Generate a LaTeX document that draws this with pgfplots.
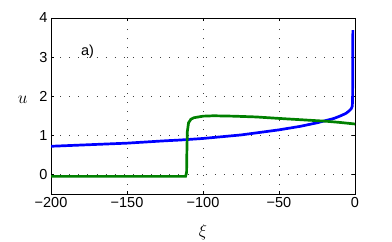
\documentclass[border=0pt]{standalone}
\usepackage{pgfplots}
\pgfplotsset{compat=1.18}
\usepackage{fontspec}
\setmainfont{Liberation Sans}
\definecolor{mblue}{RGB}{0,0,255}
\definecolor{mgreen}{RGB}{0,128,0}
\begin{document}
\begin{tikzpicture}
\begin{axis}[
  scale only axis, width=304pt, height=176pt,
  xmin=-200, xmax=0, ymin=-0.5, ymax=4,
  xtick={-200,-150,-100,-50,0},
  xticklabels={−200,−150,−100,−50,0},
  ytick={0,1,2,3,4},
  yticklabels={0,1,2,3,4},
  tick align=inside, major tick length=3pt,
  tick style={black, thin},
  grid=major, grid style={black!75, line width=0.9pt, dash pattern=on 0.9pt off 8.2pt},
  axis line style={black, line width=0.8pt},
  tick label style={font=\fontsize{14.5}{16}\selectfont},
  xlabel={$\xi$}, ylabel={$u$},
  xlabel style={font=\fontsize{17}{19}\selectfont, at={(axis description cs:0.5,0)}, anchor=north, yshift=-27pt},
  ylabel style={font=\fontsize{17}{19}\selectfont, rotate=-90, at={(axis description cs:0,0.535)}, anchor=east, xshift=-20pt},
  clip=true,
]
\addplot[mblue, line width=2.7pt] coordinates {
(-200,0.72) (-175,0.76) (-150,0.80) (-125,0.86) (-115,0.88) (-100,0.92) (-75,1.01)
(-50,1.14) (-36,1.23) (-25,1.32) (-19,1.38) (-14,1.43) (-10,1.49) (-6,1.56) (-4,1.62)
(-2.5,1.68) (-1.8,1.74) (-1.6,1.9) (-1.5,2.5) (-1.5,3.2) (-1.4,3.69)
};
\addplot[mgreen, line width=2.7pt] coordinates {
(-200,-0.05) (-150,-0.05) (-111.5,-0.05) (-110.8,0.05) (-110.6,0.6) (-110.3,1.1) (-109.5,1.32)
(-108,1.41) (-106,1.45) (-100,1.49) (-93,1.50) (-80,1.49) (-65,1.47) (-49,1.43)
(-36,1.40) (-19,1.36) (-10,1.33) (0,1.29)
};
\node[font=\fontsize{14.5}{16}\selectfont] at (axis cs:-176,3.13) {a)};
\end{axis}
\pgfresetboundingbox
\path (current axis.south west) ++(-51pt,-48pt) coordinate (bl);
\path (current axis.north east) ++(37pt,18pt) coordinate (tr);
\useasboundingbox (bl) rectangle (tr);
\end{tikzpicture}
\end{document}
